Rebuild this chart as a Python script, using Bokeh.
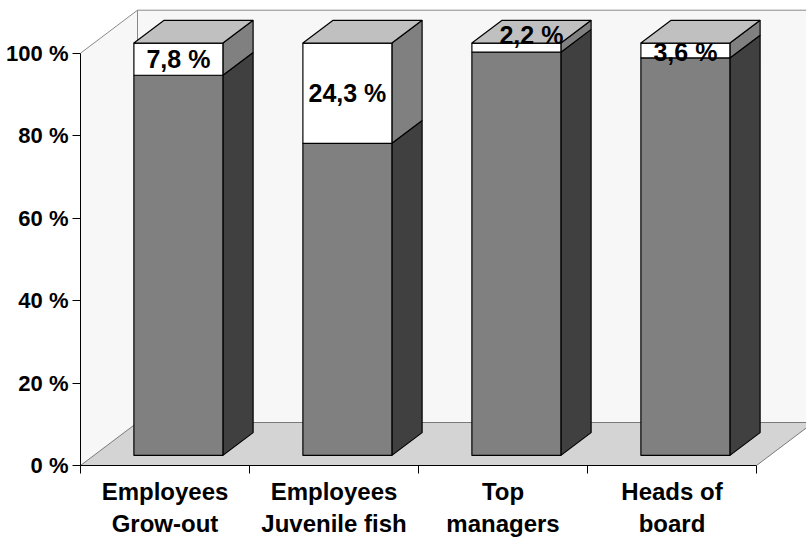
from bokeh.plotting import figure
from bokeh.models import Range1d, FixedTicker
from bokeh.embed import file_html
from bokeh.resources import INLINE
from bokeh.core.properties import value

# ---- data ----
categories = ["Employees\nGrow-out", "Employees\nJuvenile fish", "Top\nmanagers", "Heads of\nboard"]
gray_share = [92.2, 75.7, 97.8, 96.4]
white_share = [7.8, 24.3, 2.2, 3.6]
white_labels = ["7,8 %", "24,3 %", "2,2 %", "3,6 %"]
y_ticks = [0, 20, 40, 60, 80, 100]
y_tick_labels = ["0 %", "20 %", "40 %", "60 %", "80 %", "100 %"]

# ---- geometry / style ----
W, H = 806, 540
LEFT, BOTTOM = 80, 75
PX_CAT = 169.0
PX_PCT = 4.123
DX = 57 / PX_CAT      # depth vector in data units
DY = 43 / PX_PCT
F0, F1 = 0.235, 0.765  # bar depth fractions
BW = 89 / PX_CAT       # bar width
FONT = "Liberation Sans"
label_offsets = [(0, 0), (0, 0), (15, -13), (0, 1)]

n = len(categories)
x_end = (W - LEFT) / PX_CAT
y_end = (H - BOTTOM) / PX_PCT

p = figure(width=W, height=H, output_backend="svg", toolbar_location=None,
           x_range=Range1d(0, x_end), y_range=Range1d(0, y_end),
           min_border_left=LEFT, min_border_bottom=BOTTOM,
           min_border_top=0, min_border_right=0)
p.outline_line_color = None
p.grid.visible = False
p.background_fill_color = "white"
p.border_fill_color = "white"

# walls
p.patch([0, 0, DX, DX], [0, 100, 100 + DY, DY], fill_color="#f7f7f7", line_color=None)
p.patch([DX, x_end + 1, x_end + 1, DX], [DY, DY, 100 + DY, 100 + DY],
        fill_color="#f7f7f7", line_color=None)
p.line([0, DX, x_end + 1], [100, 100 + DY, 100 + DY], line_color="#8a8a8a", line_width=1)
p.line([DX, DX], [DY, 100 + DY], line_color="#8a8a8a", line_width=1)
# floor
p.patch([0, n, n + DX, DX], [0, 0, DY, DY], fill_color="#d4d4d4", line_color=None)
p.line([0, DX, n + DX + 1], [0, DY, DY], line_color="#7a7a7a", line_width=1)
p.line([n, n + DX], [0, DY], line_color="#7a7a7a", line_width=1)

# bars
front_xs, front_ys, front_c = [], [], []
side_xs, side_ys, side_c = [], [], []
top_xs, top_ys = [], []
for i in range(n):
    c = i + 0.5
    xl = c - BW / 2 + F0 * DX
    xr = c + BW / 2 + F0 * DX
    segs = [(0, gray_share[i], "#808080", "#404040"),
            (gray_share[i], gray_share[i] + white_share[i], "#ffffff", "#808080")]
    for y0, y1, fc, sc in segs:
        b0 = y0 + F0 * DY
        b1 = y1 + F0 * DY
        front_xs.append([xl, xr, xr, xl]); front_ys.append([b0, b0, b1, b1]); front_c.append(fc)
        ddx = (F1 - F0) * DX
        ddy = (F1 - F0) * DY
        side_xs.append([xr, xr + ddx, xr + ddx, xr]); side_ys.append([b0, b0 + ddy, b1 + ddy, b1]); side_c.append(sc)
    ytop = gray_share[i] + white_share[i]
    top_xs.append([xl, xr, xr + (F1 - F0) * DX, xl + (F1 - F0) * DX])
    top_ys.append([ytop + F0 * DY, ytop + F0 * DY, ytop + F1 * DY, ytop + F1 * DY])

p.patches(side_xs, side_ys, fill_color=side_c, line_color="black", line_width=1.2)
p.patches(front_xs, front_ys, fill_color=front_c, line_color="black", line_width=1.2)
p.patches(top_xs, top_ys, fill_color="#c0c0c0", line_color="black", line_width=1.2)

# value labels
for i in range(n):
    ymid = gray_share[i] + white_share[i] / 2 + F0 * DY
    p.text([i + 0.5 + F0 * DX], [ymid], text=[white_labels[i]],
           text_font=value(FONT), text_font_style="bold", text_font_size="25px",
           text_align="center", text_baseline="middle", text_color="black",
           x_offset=label_offsets[i][0], y_offset=label_offsets[i][1])

# axes
ya = p.yaxis[0]
ya.ticker = FixedTicker(ticks=y_ticks)
ya.major_label_overrides = {t: l for t, l in zip(y_ticks, y_tick_labels)}
ya.bounds = (0, 100)
ya.minor_tick_line_color = None
ya.major_tick_in = 0
ya.major_tick_out = 8
ya.major_label_standoff = 4
ya.major_label_text_font = FONT
ya.major_label_text_font_style = "bold"
ya.major_label_text_font_size = "22px"
ya.major_label_text_color = "black"
ya.axis_line_color = "black"

xa = p.xaxis[0]
centers = [i + 0.5 for i in range(n)]
xa.ticker = FixedTicker(ticks=centers, minor_ticks=list(range(n + 1)))
xa.major_label_overrides = {c: l for c, l in zip(centers, categories)}
xa.bounds = (0, n)
xa.major_tick_line_color = None
xa.major_tick_in = 0
xa.major_tick_out = 0
xa.minor_tick_in = 0
xa.minor_tick_out = 8
xa.minor_tick_line_color = "black"
xa.major_label_standoff = 4
xa.major_label_text_font = FONT
xa.major_label_text_font_style = "bold"
xa.major_label_text_font_size = "24px"
xa.major_label_text_color = "black"
xa.axis_line_color = "black"

open("out.html", "w").write(file_html(p, INLINE))
